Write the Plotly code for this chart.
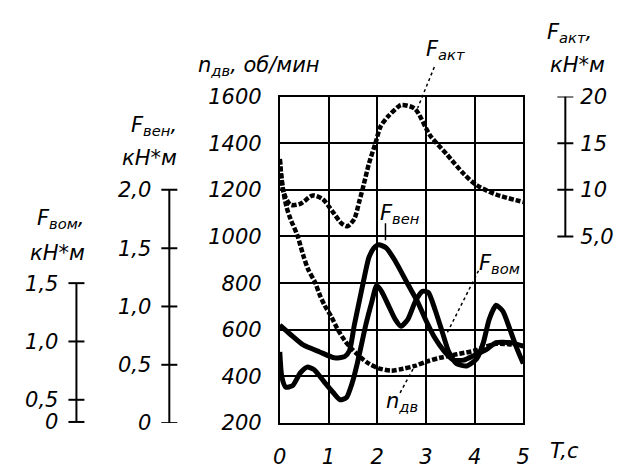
import plotly.graph_objects as go

W, H = 631, 475

# Time, s
t_akt = [0, 0.08, 0.22, 0.42, 0.68, 0.88, 1.08, 1.27, 1.39, 1.53, 1.63, 1.73, 1.83, 1.97,
         2.07, 2.23, 2.43, 2.5, 2.77, 3.09, 3.43, 3.78, 4.04, 4.44, 5.0]
f_akt = [13.3, 9.7, 8.4, 8.5, 9.4, 9.0, 7.7, 6.4, 6.1, 6.9, 8.7, 10.7, 12.8, 15.1,
         16.8, 17.9, 18.9, 19.1, 18.7, 15.8, 13.8, 11.7, 10.5, 9.5, 8.7]

t_n = [0, 0.06, 0.14, 0.22, 0.36, 0.48, 0.58, 0.72, 0.82, 0.92, 1.06, 1.18, 1.33, 1.47,
       1.67, 1.83, 2.03, 2.29, 2.53, 2.77, 3.03, 3.29, 3.63, 3.99, 4.44, 5.0]
n_dv = [1330, 1210, 1125, 1075, 1005, 920, 860, 805, 750, 705, 655, 605, 555, 520,
        480, 455, 435, 425, 433, 445, 465, 480, 495, 510, 540, 530]

t_ven = [0, 0.22, 0.48, 0.82, 1.12, 1.33, 1.43, 1.53, 1.63, 1.73, 1.83, 1.93, 2.03, 2.19,
         2.37, 2.63, 2.83, 2.99, 3.17, 3.37, 3.57, 3.78, 3.99, 4.24, 4.44, 4.74, 5.0]
f_ven = [0.84, 0.76, 0.67, 0.61, 0.56, 0.57, 0.62, 0.84, 1.04, 1.24, 1.42, 1.50, 1.53, 1.50,
         1.39, 1.19, 1.04, 0.89, 0.74, 0.62, 0.54, 0.54, 0.58, 0.63, 0.69, 0.69, 0.66]

t_vom = [0, 0.04, 0.12, 0.26, 0.42, 0.56, 0.70, 0.90, 1.10, 1.24, 1.37, 1.49, 1.59, 1.67,
         1.77, 1.89, 1.99, 2.09, 2.23, 2.37, 2.49, 2.63, 2.79, 2.93, 3.05, 3.19, 3.33, 3.47,
         3.63, 3.84, 4.04, 4.18, 4.30, 4.44, 4.58, 4.72, 4.86, 5.0]
f_vom = [0.91, 0.70, 0.61, 0.62, 0.73, 0.78, 0.76, 0.66, 0.56, 0.50, 0.52, 0.65, 0.81, 0.96,
         1.15, 1.34, 1.48, 1.43, 1.31, 1.19, 1.13, 1.19, 1.35, 1.43, 1.42, 1.27, 1.09, 0.91,
         0.81, 0.79, 0.85, 0.99, 1.19, 1.31, 1.26, 1.11, 0.95, 0.81]

# Tick values / labels
x_ticks = [0, 1, 2, 3, 4, 5]
n_ticks = [200, 400, 600, 800, 1000, 1200, 1400, 1600]
ven_ticks = [0, 0.5, 1.0, 1.5, 2.0]
ven_text = ["0", "0,5", "1,0", "1,5", "2,0"]
vom_ticks = [0.31, 0.5, 1.0, 1.5]          # scale is broken below 0,5
vom_text = ["0", "0,5", "1,0", "1,5"]
akt_ticks = [5, 10, 15, 20]
akt_text = ["5,0", "10", "15", "20"]

FONT = "DejaVu Sans"
fnt = dict(family=FONT, size=21, color="black", style="italic")

# plot area in pixels
PX_L, PX_R, PX_T, PX_B = 279, 528, 89, 433


def px(x):
    return x / W


def py(y):
    return (H - y) / H


fig = go.Figure()

dotted = dict(color="black", width=4.5, dash="5px,2px", shape="spline", smoothing=0.8)
solid = dict(color="black", width=5, shape="spline", smoothing=0.6)

fig.add_trace(go.Scatter(x=t_akt, y=f_akt, yaxis="y4", mode="lines", line=dotted))
fig.add_trace(go.Scatter(x=t_n, y=n_dv, yaxis="y", mode="lines", line=dotted))
fig.add_trace(go.Scatter(x=t_ven, y=f_ven, yaxis="y2", mode="lines", line=solid))
fig.add_trace(go.Scatter(x=t_vom, y=f_vom, yaxis="y3", mode="lines", line=solid))

common_free = dict(overlaying="y", anchor="free", showgrid=False, zeroline=False,
                   showline=False, ticks="", tickfont=fnt, tickmode="array")

fig.update_layout(
    width=W, height=H,
    margin=dict(l=0, r=0, t=0, b=0),
    paper_bgcolor="white", plot_bgcolor="white",
    showlegend=False,
    xaxis=dict(domain=[px(PX_L), px(PX_R)], range=[0, 5], tickmode="array", tickvals=x_ticks,
               showgrid=True, gridcolor="black", gridwidth=2, zeroline=False,
               showline=True, linecolor="black", linewidth=2, mirror=True,
               ticks="", tickfont=fnt, ticklabelstandoff=14),
    yaxis=dict(domain=[py(PX_B), py(PX_T)], range=[200, 1600], tickmode="array", tickvals=n_ticks,
               showgrid=True, gridcolor="black", gridwidth=2, zeroline=False,
               showline=True, linecolor="black", linewidth=2, mirror=True,
               ticks="", tickfont=fnt, ticklabelstandoff=12),
    yaxis2=dict(common_free, position=px(166), side="left", range=[0, 2.8],
                tickvals=ven_ticks, ticktext=ven_text, ticklabelstandoff=18),
    yaxis3=dict(common_free, position=px(71), side="left", range=[0.30, 3.10],
                tickvals=vom_ticks, ticktext=vom_text, ticklabelstandoff=18),
    yaxis4=dict(common_free, position=px(571), side="right", range=[-15, 20],
                tickvals=akt_ticks, ticktext=akt_text, ticklabelstandoff=14),
)

# auxiliary scale lines with cross ticks
shapes = []
for pos, yref, ticks in [(166, "y2", ven_ticks), (71, "y3", vom_ticks), (571, "y4", akt_ticks)]:
    shapes.append(dict(type="line", xref="paper", yref=yref, x0=px(pos), x1=px(pos),
                       y0=min(ticks), y1=max(ticks), line=dict(color="black", width=2)))
    for v in ticks:
        shapes.append(dict(type="line", xref="paper", xsizemode="pixel", xanchor=px(pos),
                           x0=-8, x1=8, yref=yref, y0=v, y1=v,
                           line=dict(color="black", width=2)))

# leader lines from curve labels
leader = dict(color="black", width=1.5, dash="dot")
shapes += [
    dict(type="line", xref="paper", yref="paper", x0=px(437), y0=py(58), x1=px(420), y1=py(101),
         line=leader),
    dict(type="line", xref="x", yref="y", x0=2.17, y0=1057, x1=2.17, y1=984,
         line=dict(color="black", width=1.5)),
    dict(type="line", xref="x", yref="y", x0=4.08, y0=853, x1=3.43, y1=584, line=leader),
    dict(type="line", xref="x", yref="y", x0=2.47, y0=330, x1=2.77, y1=445, line=leader),
]
fig.update_layout(shapes=shapes)

ann = []


def label(text, x, y, xanchor="center", xref="paper", yref="paper", size=21):
    ann.append(dict(text=text, x=x, y=y, xref=xref, yref=yref, xanchor=xanchor,
                    yanchor="middle", showarrow=False,
                    font=dict(family=FONT, size=size, color="black", style="italic")))


# scale titles
label("n<sub>дв</sub>, об/мин", px(193), py(57), xanchor="left")
label("F<sub>вен</sub>,", px(176), py(120), xanchor="right")
label("кН*м", px(176), py(154), xanchor="right")
label("F<sub>вом</sub>,", px(82), py(218), xanchor="right")
label("кН*м", px(82), py(254), xanchor="right")
label("F<sub>акт</sub>,", px(550), py(22), xanchor="left")
label("кН*м", px(553), py(56), xanchor="left")
label("T,c", px(553), py(462), xanchor="left")

# curve labels
label("F<sub>акт</sub>", px(448), py(40))
label("F<sub>вен</sub>", 2.47, 1098, xref="x", yref="y")
label("F<sub>вом</sub>", 4.52, 882, xref="x", yref="y")
label("n<sub>дв</sub>", 2.51, 290, xref="x", yref="y")

fig.update_layout(annotations=ann)

fig.write_html("out.html")
